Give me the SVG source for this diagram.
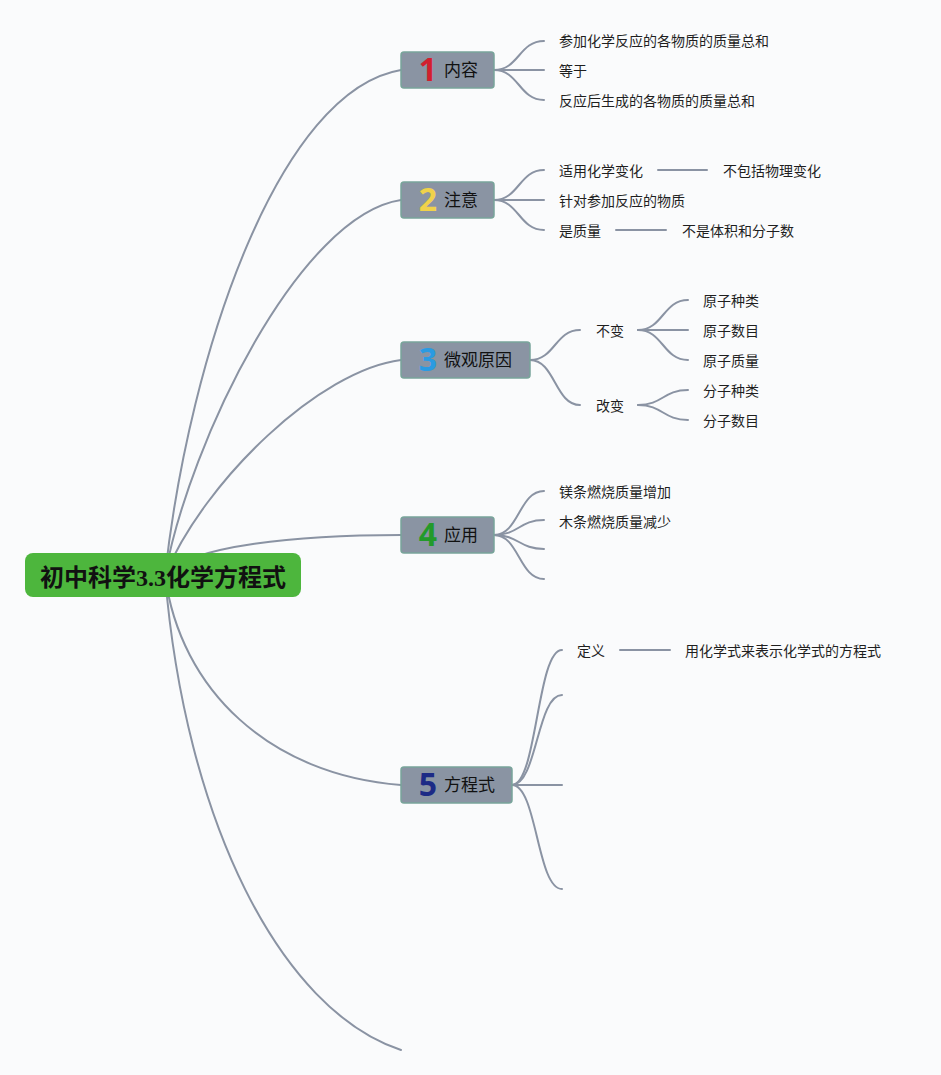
<svg xmlns="http://www.w3.org/2000/svg" width="941" height="1075" viewBox="0 0 941 1075">
<style>
.c{fill:none;stroke:#8a93a3;stroke-width:2;stroke-linecap:round}
.t{font-family:"Noto Sans CJK SC","Noto Sans",sans-serif;font-size:14px;fill:#1f1f1f}
.nb{fill:#8a94a3;stroke:#78a49a;stroke-width:1.5}
.nt{font-family:"Noto Sans CJK SC","Noto Sans",sans-serif;font-size:17px;fill:#111}
.num{font-family:"Noto Sans","DejaVu Sans",sans-serif;font-weight:bold;font-size:32px;text-anchor:middle}
</style>
<rect width="941" height="1075" fill="#fafbfc"/>
<g id="connectors">
<path class="c" d="M165,575 C190,350 280,90 401,70"/>
<path class="c" d="M165,575 C190,440 300,215 401,200"/>
<path class="c" d="M165,575 C205,480 320,370 401,360"/>
<path class="c" d="M165,575 C190,545 300,535 401,535"/>
<path class="c" d="M165,575 C180,690 270,775 401,785"/>
<path class="c" d="M165,575 C185,820 280,1010 401,1050"/>
<path class="c" d="M494,70 C519,70 519,41 544,41"/>
<path class="c" d="M494,70 L544,70"/>
<path class="c" d="M494,70 C519,70 519,100 544,100"/>
<path class="c" d="M494,200 C519,200 519,170 544,170"/>
<path class="c" d="M494,200 L544,200"/>
<path class="c" d="M494,200 C519,200 519,230 544,230"/>
<path class="c" d="M658,170 L707,170"/>
<path class="c" d="M616,230 L666,230"/>
<path class="c" d="M530,360 C555,360 555,330 580,330"/>
<path class="c" d="M530,360 C555,360 555,405 580,405"/>
<path class="c" d="M638,330 C663,330 663,300 688,300"/>
<path class="c" d="M638,330 L688,330"/>
<path class="c" d="M638,330 C663,330 663,360 688,360"/>
<path class="c" d="M638,405 C663,405 663,390 688,390"/>
<path class="c" d="M638,405 C663,405 663,420 688,420"/>
<path class="c" d="M494,535 C519,535 519,491 544,491"/>
<path class="c" d="M494,535 C519,535 519,520 544,520"/>
<path class="c" d="M494,535 C519,535 519,549 544,549"/>
<path class="c" d="M494,535 C519,535 519,579 544,579"/>
<path class="c" d="M512,785 C537,785 537,650 562,650"/>
<path class="c" d="M512,785 C537,785 537,695 562,695"/>
<path class="c" d="M512,785 L562,785"/>
<path class="c" d="M512,785 C537,785 537,889 562,889"/>
<path class="c" d="M620,650 L670,650"/>
</g>
<g id="root">
<rect x="25" y="553" width="276" height="44" rx="8" fill="#4db63d"/>
<text x="163" y="586" text-anchor="middle" font-family="Noto Sans CJK SC,sans-serif" font-weight="bold" font-size="24" fill="#111">初中科学<tspan font-family="Liberation Serif,serif">3.3</tspan>化学方程式</text>
</g>
<g id="n1">
<rect class="nb" x="401" y="52" width="93" height="36" rx="3"/>
<text class="num" x="428" y="81" fill="#d21f2e">1</text>
<text class="nt" x="444" y="76">内容</text>
</g>
<g id="n1a"><text class="t" x="559" y="46">参加化学反应的各物质的质量总和</text></g>
<g id="n1b"><text class="t" x="559" y="76">等于</text></g>
<g id="n1c"><text class="t" x="559" y="106">反应后生成的各物质的质量总和</text></g>
<g id="n2">
<rect class="nb" x="401" y="182" width="93" height="36" rx="3"/>
<text class="num" x="428" y="211" fill="#f0d24a">2</text>
<text class="nt" x="444" y="206">注意</text>
</g>
<g id="n2a"><text class="t" x="559" y="176">适用化学变化</text></g>
<g id="n2a1"><text class="t" x="723" y="176">不包括物理变化</text></g>
<g id="n2b"><text class="t" x="559" y="206">针对参加反应的物质</text></g>
<g id="n2c"><text class="t" x="559" y="236">是质量</text></g>
<g id="n2c1"><text class="t" x="682" y="236">不是体积和分子数</text></g>
<g id="n3">
<rect class="nb" x="401" y="342" width="129" height="36" rx="3"/>
<text class="num" x="428" y="371" fill="#2a9be2">3</text>
<text class="nt" x="444" y="366">微观原因</text>
</g>
<g id="n3a"><text class="t" x="596" y="336">不变</text></g>
<g id="n3a1"><text class="t" x="703" y="306">原子种类</text></g>
<g id="n3a2"><text class="t" x="703" y="336">原子数目</text></g>
<g id="n3a3"><text class="t" x="703" y="366">原子质量</text></g>
<g id="n3b"><text class="t" x="596" y="411">改变</text></g>
<g id="n3b1"><text class="t" x="703" y="396">分子种类</text></g>
<g id="n3b2"><text class="t" x="703" y="426">分子数目</text></g>
<g id="n4">
<rect class="nb" x="401" y="517" width="93" height="36" rx="3"/>
<text class="num" x="428" y="546" fill="#239a2a">4</text>
<text class="nt" x="444" y="541">应用</text>
</g>
<g id="n4a"><text class="t" x="559" y="497">镁条燃烧质量增加</text></g>
<g id="n4b"><text class="t" x="559" y="527">木条燃烧质量减少</text></g>
<g id="n5">
<rect class="nb" x="401" y="767" width="111" height="36" rx="3"/>
<text class="num" x="428" y="796" fill="#1c2a86">5</text>
<text class="nt" x="444" y="791">方程式</text>
</g>
<g id="n5a"><text class="t" x="577" y="656">定义</text></g>
<g id="n5a1"><text class="t" x="685" y="656">用化学式来表示化学式的方程式</text></g>
</svg>
